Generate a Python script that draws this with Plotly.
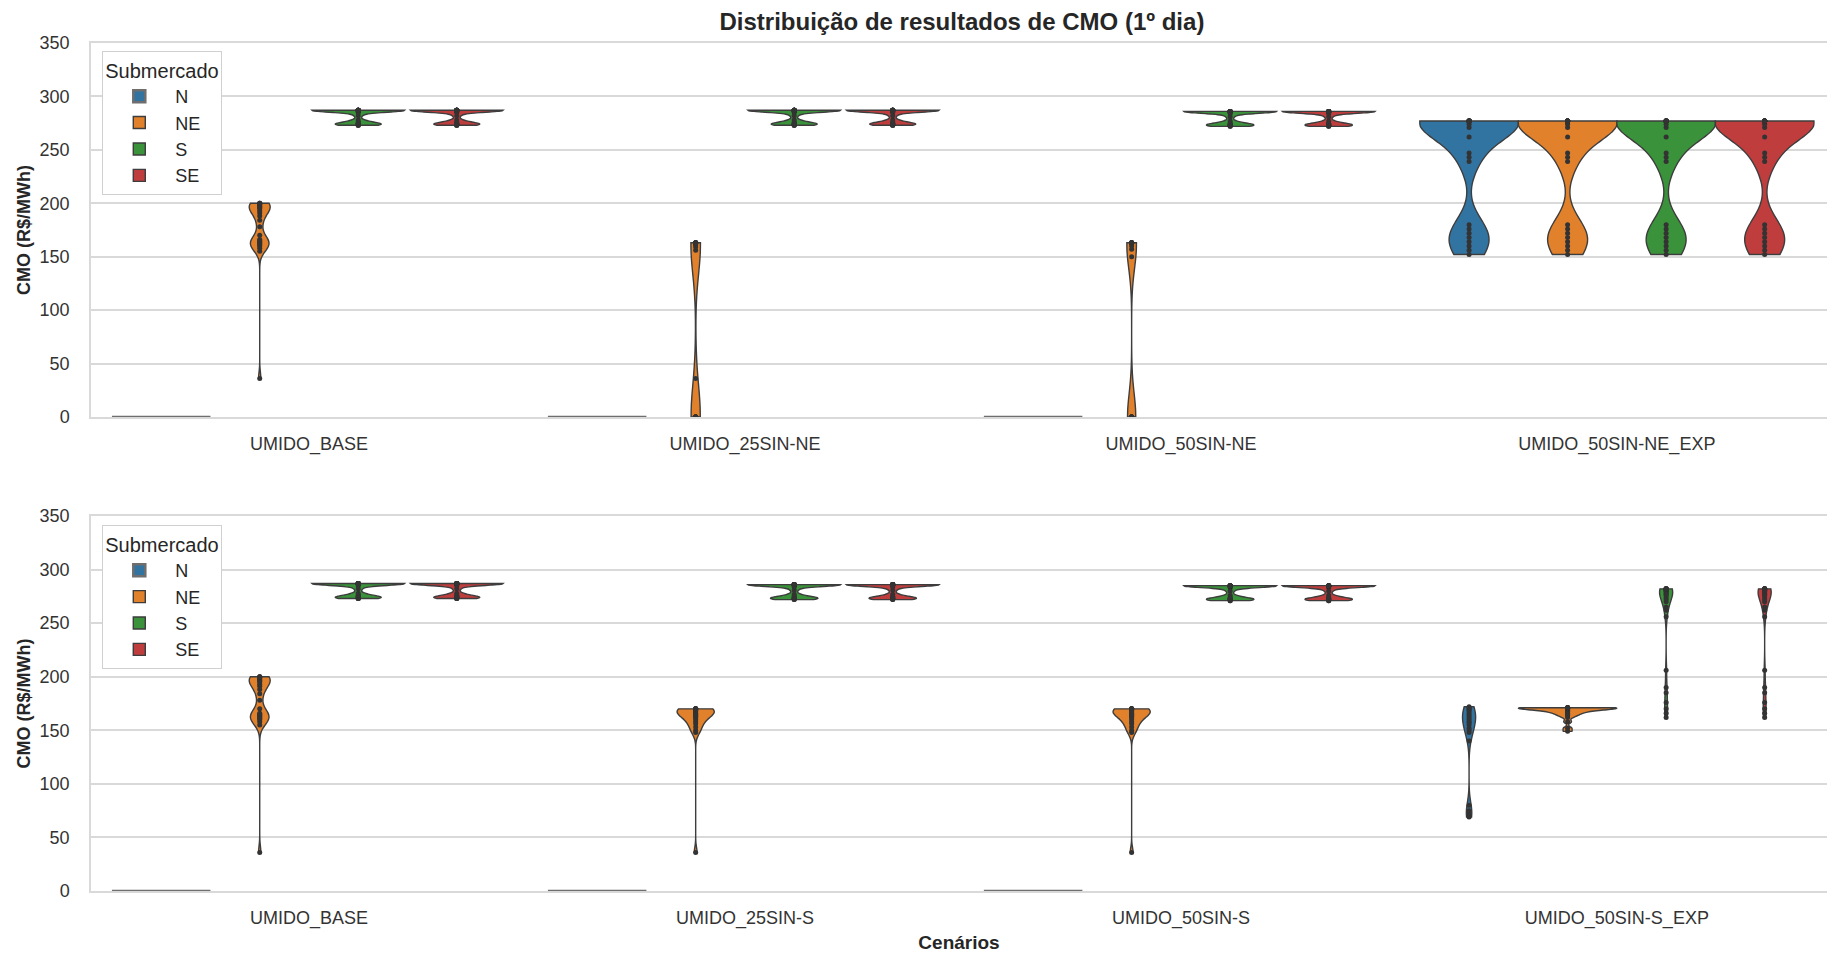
import plotly.graph_objects as go

# ---------------- data ----------------
SUBMERCADOS = ["N", "NE", "S", "SE"]
CENARIOS_NE = ["UMIDO_BASE", "UMIDO_25SIN-NE", "UMIDO_50SIN-NE", "UMIDO_50SIN-NE_EXP"]
CENARIOS_S = ["UMIDO_BASE", "UMIDO_25SIN-S", "UMIDO_50SIN-S", "UMIDO_50SIN-S_EXP"]
Y_TICKS = [0, 50, 100, 150, 200, 250, 300, 350]

N_ZERO = [0, 0, 0, 0, 0, 0, 0, 0, 0, 0, 0, 0, 0, 0, 0, 0, 0, 0, 0, 0, 0, 0, 0, 0]

BASE_NE = [200, 200, 200, 199, 198, 197, 196, 195, 193, 191, 188, 184,
           178, 170, 166, 165, 164, 163, 162, 161, 160, 158, 155, 36]
BASE_S = [287, 287, 287, 287, 287, 287, 287, 287, 287, 287, 287, 287,
          286, 285, 282, 278, 276, 275, 275, 274, 274, 273, 273, 273]
BASE_SE = [287, 287, 287, 287, 287, 287, 287, 287, 287, 287, 287, 287,
           286, 285, 282, 278, 276, 275, 275, 274, 274, 273, 273, 273]

NE25_NE = [163, 163, 163, 163, 163, 163, 163, 163, 162, 161, 159, 156,
           36, 0, 0, 0, 0, 0, 0, 0, 0, 0, 0, 0]
NE25_S = [287, 287, 287, 287, 287, 287, 287, 287, 287, 287, 287, 287,
          286, 285, 282, 278, 276, 275, 275, 274, 274, 273, 273, 273]
NE25_SE = [287, 287, 287, 287, 287, 287, 287, 287, 287, 287, 287, 287,
           286, 285, 282, 278, 276, 275, 275, 274, 274, 273, 273, 273]

NE50_NE = [163, 163, 163, 163, 163, 163, 163, 163, 163, 162, 160, 157,
           150, 0, 0, 0, 0, 0, 0, 0, 0, 0, 0, 0]
NE50_S = [286, 286, 286, 286, 286, 286, 286, 286, 286, 286, 286, 286,
          285, 284, 281, 277, 275, 274, 274, 273, 273, 273, 272, 272]
NE50_SE = [286, 286, 286, 286, 286, 286, 286, 286, 286, 286, 286, 286,
           285, 284, 281, 277, 275, 274, 274, 273, 273, 273, 272, 272]

EXPNE_N = [277, 277, 277, 277, 277, 277, 277, 277, 277, 277, 277, 277, 277, 277,
           274, 271, 262, 247, 243, 239,
           180, 176, 172, 168, 164, 160, 156, 152]
EXPNE_NE = [277, 277, 277, 277, 277, 277, 277, 277, 277, 277, 277, 277, 277, 277,
            274, 271, 262, 247, 243, 239,
            180, 176, 172, 168, 164, 160, 156, 152]
EXPNE_S = [277, 277, 277, 277, 277, 277, 277, 277, 277, 277, 277, 277, 277, 277,
           274, 271, 262, 247, 243, 239,
           180, 176, 172, 168, 164, 160, 156, 152]
EXPNE_SE = [277, 277, 277, 277, 277, 277, 277, 277, 277, 277, 277, 277, 277, 277,
            274, 271, 262, 247, 243, 239,
            180, 176, 172, 168, 164, 160, 156, 152]

S25_NE = [170, 170, 170, 170, 170, 170, 169, 169, 168, 167, 166, 165,
          164, 163, 162, 160, 158, 156, 153, 150, 148, 36]
S25_S = [286, 286, 286, 286, 286, 286, 286, 286, 286, 286, 286, 286,
         285, 284, 281, 277, 275, 274, 274, 273, 273, 273, 272, 272]
S25_SE = [286, 286, 286, 286, 286, 286, 286, 286, 286, 286, 286, 286,
          285, 284, 281, 277, 275, 274, 274, 273, 273, 273, 272, 272]

S50_NE = [170, 170, 170, 170, 170, 170, 169, 169, 168, 167, 166, 165,
          164, 163, 162, 160, 158, 156, 153, 150, 148, 36]
S50_S = [285, 285, 285, 285, 285, 285, 285, 285, 285, 285, 285, 285,
         284, 283, 280, 276, 274, 273, 273, 272, 272, 272, 271, 271]
S50_SE = [285, 285, 285, 285, 285, 285, 285, 285, 285, 285, 285, 285,
          284, 283, 280, 276, 274, 273, 273, 272, 272, 272, 271, 271]

EXPS_N = [172, 171, 170, 169, 168, 166, 164, 162, 160, 158, 157, 155,
          152, 150, 148, 140, 80, 75, 72, 70, 69]
EXPS_NE = [171, 171, 171, 171, 171, 171, 171, 171, 171, 171, 170, 170,
           169, 169, 168, 168, 167, 166, 165, 164, 162, 158, 152, 149]
EXPS_S = [282, 282, 282, 282, 282, 282, 281, 281, 280, 280, 279, 278,
          277, 276, 274, 272, 270, 265, 262, 256, 206, 190, 185, 176,
          170, 166, 162]
EXPS_SE = [282, 282, 282, 282, 282, 282, 281, 281, 280, 280, 279, 278,
           277, 276, 274, 272, 270, 265, 262, 256, 206, 190, 185, 176,
           170, 166, 162]

PANEL_NE = {
    "UMIDO_BASE": {"N": N_ZERO, "NE": BASE_NE, "S": BASE_S, "SE": BASE_SE},
    "UMIDO_25SIN-NE": {"N": N_ZERO, "NE": NE25_NE, "S": NE25_S, "SE": NE25_SE},
    "UMIDO_50SIN-NE": {"N": N_ZERO, "NE": NE50_NE, "S": NE50_S, "SE": NE50_SE},
    "UMIDO_50SIN-NE_EXP": {"N": EXPNE_N, "NE": EXPNE_NE, "S": EXPNE_S, "SE": EXPNE_SE},
}
PANEL_S = {
    "UMIDO_BASE": {"N": N_ZERO, "NE": BASE_NE, "S": BASE_S, "SE": BASE_SE},
    "UMIDO_25SIN-S": {"N": N_ZERO, "NE": S25_NE, "S": S25_S, "SE": S25_SE},
    "UMIDO_50SIN-S": {"N": N_ZERO, "NE": S50_NE, "S": S50_S, "SE": S50_SE},
    "UMIDO_50SIN-S_EXP": {"N": EXPS_N, "NE": EXPS_NE, "S": EXPS_S, "SE": EXPS_SE},
}

# ---------------- style ----------------
COLORS = {"N": "#3274A1", "NE": "#E1812C", "S": "#3A923A", "SE": "#C03D3E"}
SLOT = 0.226  # dodge width of each submarket within a scenario
WIDE = 0.212  # width of the S / SE flat-top violins

# (max violin width in x units, KDE bandwidth) per violin
STYLE_NE = {
    "UMIDO_BASE": {"N": (SLOT, None), "NE": (0.048, 6), "S": (WIDE, 1.6), "SE": (WIDE, 1.6)},
    "UMIDO_25SIN-NE": {"N": (SLOT, None), "NE": (0.022, 28), "S": (WIDE, 1.6), "SE": (WIDE, 1.6)},
    "UMIDO_50SIN-NE": {"N": (SLOT, None), "NE": (0.022, 22), "S": (WIDE, 1.6), "SE": (WIDE, 1.6)},
    "UMIDO_50SIN-NE_EXP": {"N": (SLOT, 16), "NE": (SLOT, 16), "S": (SLOT, 16), "SE": (SLOT, 16)},
}
STYLE_S = {
    "UMIDO_BASE": {"N": (SLOT, None), "NE": (0.048, 6), "S": (WIDE, 1.6), "SE": (WIDE, 1.6)},
    "UMIDO_25SIN-S": {"N": (SLOT, None), "NE": (0.085, 5), "S": (WIDE, 1.6), "SE": (WIDE, 1.6)},
    "UMIDO_50SIN-S": {"N": (SLOT, None), "NE": (0.085, 5), "S": (WIDE, 1.6), "SE": (WIDE, 1.6)},
    "UMIDO_50SIN-S_EXP": {"N": (0.03, 9), "NE": (SLOT, 1.5), "S": (0.03, 8), "SE": (0.03, 8)},
}

FONT = "Liberation Sans, Arial, sans-serif"
TEXT = "#262626"
GRID = "#d9d9d9"

fig = go.Figure()


def add_panel(panel, style, xa, ya, legend_name):
    for ci, cen in enumerate(panel):
        for k, sub in enumerate(SUBMERCADOS):
            vals = panel[cen][sub]
            w, bw = style[cen][sub]
            pos = ci + (k - 1.5) * SLOT
            degenerate = len(set(vals)) == 1
            kw = {}
            if bw is not None:
                kw["bandwidth"] = bw
            fig.add_trace(go.Violin(
                x=[pos] * len(vals), y=vals,
                name=sub, legendgroup=legend_name + sub,
                showlegend=(ci == 0), legend=legend_name,
                xaxis=xa, yaxis=ya,
                width=w, scalemode="width",
                scalegroup=f"{legend_name}-{cen}-{sub}",
                spanmode="hard",
                fillcolor=COLORS[sub], opacity=1,
                line=dict(color="#3d3d3d" if not degenerate else "#6e6e6e",
                          width=1.4 if not degenerate else 2.5),
                points=False if degenerate else "all",
                pointpos=0, jitter=0,
                marker=dict(color="#333333", size=5),
                box_visible=False, meanline_visible=False,
                hoverinfo="skip",
                **kw,
            ))


add_panel(PANEL_NE, STYLE_NE, "x", "y", "legend")
add_panel(PANEL_S, STYLE_S, "x2", "y2", "legend2")

xrange_ = [-0.5, 3.482]
axis_common_x = dict(
    range=xrange_, tickmode="array", tickvals=[0, 1, 2, 3],
    showgrid=False, zeroline=False, showline=True, mirror=True,
    linecolor=GRID, linewidth=1.5, ticks="", ticklabelstandoff=10,
    tickfont=dict(family=FONT, size=18, color="#333333"),
)
axis_common_y = dict(
    range=[0, 350], tickvals=Y_TICKS, showgrid=True, gridcolor=GRID,
    gridwidth=1.5, zeroline=False, showline=True, linecolor=GRID, linewidth=1.5,
    ticks="", ticklabelstandoff=16,
    tickfont=dict(family=FONT, size=18, color="#333333"),
    title=dict(text="CMO (R$/MWh)", standoff=4,
               font=dict(family=FONT, size=18, color=TEXT, weight="bold")),
)

legend_common = dict(
    title=dict(text="Submercado", font=dict(family=FONT, size=20, color=TEXT)),
    x=0.0065, xanchor="left", yanchor="top",
    bgcolor="white", bordercolor="#d0d0d0", borderwidth=1,
    font=dict(family=FONT, size=18, color=TEXT), tracegroupgap=0,
    itemwidth=62,
)

fig.update_layout(
    width=1827, height=953,
    margin=dict(l=91, r=0, t=43, b=62),
    paper_bgcolor="white", plot_bgcolor="white",
    violinmode="overlay",
    title=dict(text="Distribuição de resultados de CMO (1º dia)",
               x=0.5017, xref="paper", xanchor="center",
               y=1 - 22 / 953, yref="container", yanchor="middle",
               font=dict(family=FONT, size=24, color=TEXT, weight="bold")),
    xaxis=dict(domain=[0, 1], anchor="y", ticktext=CENARIOS_NE, **axis_common_x),
    yaxis=dict(domain=[0.559, 1], anchor="x", **axis_common_y),
    xaxis2=dict(domain=[0, 1], anchor="y2", ticktext=CENARIOS_S,
                title=dict(text="Cenários", standoff=8,
                           font=dict(family=FONT, size=19, color=TEXT, weight="bold")),
                **axis_common_x),
    yaxis2=dict(domain=[0, 0.4422], anchor="x2", **axis_common_y),
    legend=dict(y=0.9906, **legend_common),
    legend2=dict(y=0.4316, **legend_common),
)

fig.write_html("out.html")
